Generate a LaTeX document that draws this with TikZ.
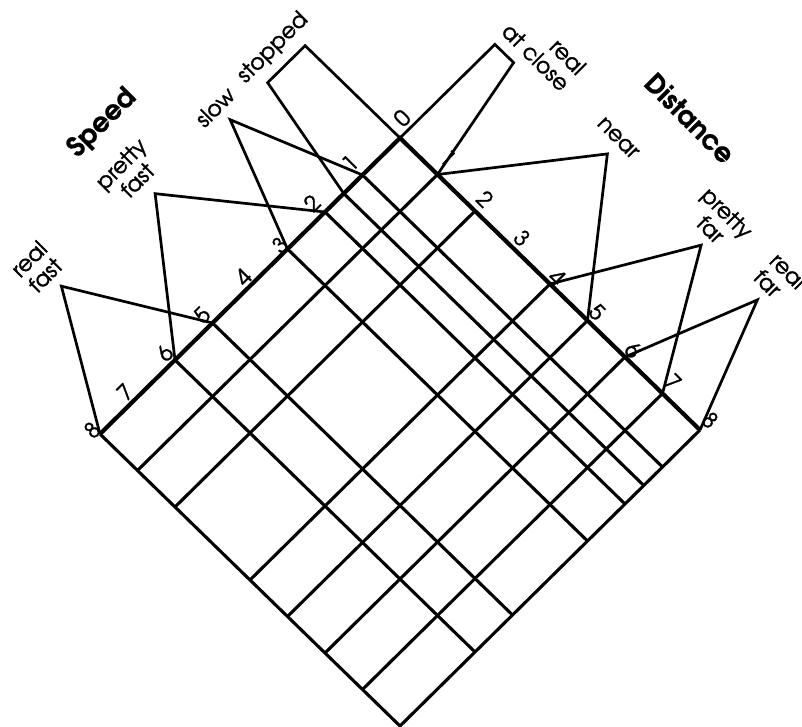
\documentclass[tikz,border=0pt]{standalone}
\usepackage{fontspec}
\setmainfont{texgyreadventor}[Extension=.otf, UprightFont=*-regular, BoldFont=*-bold]
\newfontfamily\labfont{texgyreadventor-regular.otf}[FakeBold=1.3]
\newfontfamily\ttlfont{texgyreadventor-bold.otf}[FakeBold=0.6]
\newcommand{\SD}[2]{({400-37.5*(#1)+37.5*(#2)},{138+37*(#1)+36.5*(#2)})}
\newcommand{\HH}{2.53}
\begin{document}
\begin{tikzpicture}[x=1pt,y=-1pt,
  gridline/.style={line width=3.1pt},
  axisline/.style={line width=4.2pt},
  memb/.style={line width=2.7pt, line join=miter},
  lab/.style={font=\labfont\fontsize{22}{23}\selectfont, inner sep=0pt, align=center},
  slab/.style={lab, rotate=45},
  dlab/.style={lab, rotate=-45},
  ttl/.style={font=\ttlfont\fontsize{27}{27}\selectfont, inner sep=0pt}]
\useasboundingbox (0,0) rectangle (802,727);
\fill[white] (0,0) rectangle (802,727);
% grid lines
\foreach \ss in {1,1.5,2,3,5,6} \draw[gridline] \SD{\ss}{0} -- \SD{\ss}{8};
\foreach \dd in {1,2,4,5,6,7} \draw[gridline] \SD{0}{\dd} -- \SD{8}{\dd};
\draw[gridline] \SD{8}{0} -- \SD{8}{8} -- \SD{0}{8};
\draw[axisline] \SD{8}{0} -- \SD{0}{0} -- \SD{0}{8};
% speed membership functions
\draw[memb] \SD{0}{0} -- \SD{0}{-\HH} -- \SD{1}{-\HH} -- \SD{1.5}{0};
\draw[memb] \SD{1}{0} -- \SD{2}{-\HH} -- \SD{3}{0};
\draw[memb] \SD{2}{0} -- \SD{4}{-\HH} -- \SD{6}{0};
\draw[memb] \SD{5}{0} -- \SD{6.5}{-\HH} -- \SD{8}{0};
% distance membership functions
\draw[memb] \SD{0}{0} -- \SD{-\HH}{0} -- \SD{-\HH}{0.5} -- \SD{0}{1};
\draw[memb] \SD{0}{1} -- \SD{-\HH}{3} -- \SD{0}{5};
\draw[memb] \SD{0}{4} -- \SD{-\HH}{5.5} -- \SD{0}{7};
\draw[memb] \SD{0}{6} -- \SD{-\HH}{7} -- \SD{0}{8};
% tick labels
\node[slab] (t0) at (402,118) {0};
\node[slab] (s1) at (350,163) {1};
\node[slab] (s2) at (312,203) {2};
\node[slab] (s3) at (280,245) {3};
\node[slab] (s4) at (243,277) {4};
\node[slab] (s5) at (202,315) {5};
\node[slab] (s6) at (165,353) {6};
\node[slab] (s7) at (125,392) {7};
\node[slab] (s8) at (92,430) {8};
\node[dlab] (d1) at (448,158) {1};
\node[dlab] (d2) at (485,199) {2};
\node[dlab] (d3) at (522,238) {3};
\node[dlab] (d4) at (557,277) {4};
\node[dlab] (d5) at (597,312) {5};
\node[dlab] (d6) at (633,350) {6};
\node[dlab] (d7) at (673,382) {7};
\node[dlab] (d8) at (710,420) {8};
% set names
\node[ttl, rotate=45] (speed) at (102,123) {Speed};
\node[ttl, rotate=-45] (dist) at (690,118) {Distance};
\node[slab] (stopped) at (273,48) {stopped};
\node[slab] (slow) at (215,107) {slow};
\node[slab] (pfast) at (129,172) {pretty\\fast};
\node[slab] (rfast) at (37,267) {real\\fast};
\node[dlab, align=right] (rclose) at (544,49) {real\\at close};
\node[dlab] (near) at (618,138) {near};
\node[dlab] (pfar) at (719,221) {pretty\\far};
\node[dlab, align=left] (rfar) at (780,279) {real\\far};
\end{tikzpicture}
\end{document}
